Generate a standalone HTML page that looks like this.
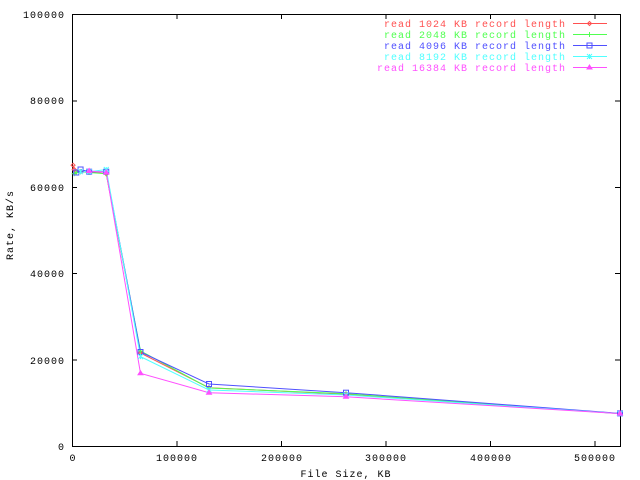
<!DOCTYPE html>
<html><head><meta charset="utf-8"><style>
html,body{margin:0;padding:0;background:#fff;}
svg{display:block;}
text{font-family:"Liberation Mono","DejaVu Sans Mono",monospace;font-size:10px;letter-spacing:1px;}
</style></head><body>
<svg width="640" height="480" viewBox="0 0 640 480" xmlns="http://www.w3.org/2000/svg">
<defs>
<path id="m1" d="M0,-2L2,0L0,2L-2,0Z" fill="none" stroke-width="1"/>
<path id="m2" d="M-2.5,0H2.5M0,-2.5V2.5" fill="none" stroke-width="1"/>
<rect id="m3" x="-2.5" y="-2.5" width="5" height="5" fill="none" stroke-width="1"/>
<path id="m4" d="M-2.5,-2.5L2.5,2.5M-2.5,2.5L2.5,-2.5M0,-2.5V2.5" fill="none" stroke-width="1"/>
<path id="m5" d="M0,-2.5L2.5,1.5H-2.5Z" stroke-width="1"/>
</defs>
<rect width="640" height="480" fill="#fff"/>
<g stroke="#000" stroke-width="1" fill="none" shape-rendering="crispEdges">
<rect x="72.5" y="14.5" width="548" height="432"/>
<path d="M72,14.5h5M620,14.5h-5M72,100.9h5M620,100.9h-5M72,187.3h5M620,187.3h-5M72,273.7h5M620,273.7h-5M72,360.1h5M620,360.1h-5"/>
<path d="M177,446v-5M177,14v5M281.5,446v-5M281.5,14v5M386,446v-5M386,14v5M490.5,446v-5M490.5,14v5M595,446v-5M595,14v5"/>
</g>
<g fill="#000">
<text x="65" y="18" text-anchor="end">100000</text>
<text x="65" y="104" text-anchor="end">80000</text>
<text x="65" y="191" text-anchor="end">60000</text>
<text x="65" y="277" text-anchor="end">40000</text>
<text x="65" y="364" text-anchor="end">20000</text>
<text x="65" y="450" text-anchor="end">0</text>
<text x="73" y="461" text-anchor="middle">0</text>
<text x="177" y="461" text-anchor="middle">100000</text>
<text x="282" y="461" text-anchor="middle">200000</text>
<text x="386" y="461" text-anchor="middle">300000</text>
<text x="491" y="461" text-anchor="middle">400000</text>
<text x="595" y="461" text-anchor="middle">500000</text>
<text x="346" y="477" text-anchor="middle">File Size, KB</text>
<text transform="translate(13,225) rotate(-90)" text-anchor="middle">Rate, KB/s</text>
</g>
<!-- legend -->
<g text-anchor="end">
<text x="566" y="27" fill="#ff5050">read 1024 KB record length</text>
<text x="566" y="38" fill="#50ff50">read 2048 KB record length</text>
<text x="566" y="49" fill="#5050ff">read 4096 KB record length</text>
<text x="566" y="60" fill="#50ffff">read 8192 KB record length</text>
<text x="566" y="71" fill="#ff50ff">read 16384 KB record length</text>
</g>
<g stroke-width="1" fill="none">
<path d="M573,23.5H607" stroke="#ff5050"/>
<path d="M573,34.5H607" stroke="#50ff50"/>
<path d="M573,45.5H607" stroke="#5050ff"/>
<path d="M573,56.5H607" stroke="#50ffff"/>
<path d="M573,67.5H607" stroke="#ff50ff"/>
</g>
<use href="#m1" x="589.5" y="23.5" stroke="#ff5050"/>
<use href="#m2" x="589.5" y="34.5" stroke="#50ff50"/>
<use href="#m3" x="589.5" y="45.5" stroke="#5050ff"/>
<use href="#m4" x="589.5" y="56.5" stroke="#50ffff"/>
<use href="#m5" x="589.5" y="67.5" stroke="#ff50ff" fill="#ff50ff"/>

<!-- series -->
<g fill="none" stroke-width="1">
<polyline stroke="#ff5050" points="73.07,165.2 74.14,169.5 76.28,171.7 80.56,171.7 89.13,171.7 106.25,173.8 140.5,353.1 209,387.7 346,394.2 620,413.6"/>
<polyline stroke="#50ff50" points="74.14,173.8 76.28,172.5 80.56,171.7 89.13,172.5 106.25,173.8 140.5,351 209,388 346,393.7 620,413.6"/>
<polyline stroke="#5050ff" points="76.28,172.5 80.56,169.5 89.13,171.7 106.25,171.7 140.5,352 209,384 346,392.7 620,413.4"/>
<polyline stroke="#50ffff" points="80.56,171.7 89.13,171.7 106.25,169.5 140.5,356.6 209,390 346,395 620,413.6"/>
<polyline stroke="#ff50ff" points="89.13,171 106.25,172.5 140.5,373.3 209,392.7 346,396.8 620,413.6"/>
</g>
<g stroke="#ff5050">
<use href="#m1" x="73.07" y="165.2"/><use href="#m1" x="74.14" y="169.5"/><use href="#m1" x="76.28" y="171.7"/><use href="#m1" x="80.56" y="171.7"/><use href="#m1" x="89.13" y="171.7"/><use href="#m1" x="106.25" y="173.8"/><use href="#m1" x="140.5" y="353.1"/><use href="#m1" x="209" y="387.7"/><use href="#m1" x="346" y="394.2"/><use href="#m1" x="620" y="413.6"/>
</g>
<g stroke="#50ff50">
<use href="#m2" x="74.14" y="173.8"/><use href="#m2" x="76.28" y="172.5"/><use href="#m2" x="80.56" y="171.7"/><use href="#m2" x="89.13" y="172.5"/><use href="#m2" x="106.25" y="173.8"/><use href="#m2" x="140.5" y="351"/><use href="#m2" x="209" y="388"/><use href="#m2" x="346" y="393.7"/><use href="#m2" x="620" y="413.6"/>
</g>
<g stroke="#5050ff">
<use href="#m3" x="76.28" y="172.5"/><use href="#m3" x="80.56" y="169.5"/><use href="#m3" x="89.13" y="171.7"/><use href="#m3" x="106.25" y="171.7"/><use href="#m3" x="140.5" y="352"/><use href="#m3" x="209" y="384"/><use href="#m3" x="346" y="392.7"/><use href="#m3" x="620" y="413.4"/>
</g>
<g stroke="#50ffff">
<use href="#m4" x="80.56" y="171.7"/><use href="#m4" x="89.13" y="171.7"/><use href="#m4" x="106.25" y="169.5"/><use href="#m4" x="140.5" y="356.6"/><use href="#m4" x="209" y="390"/><use href="#m4" x="346" y="395"/><use href="#m4" x="620" y="413.6"/>
</g>
<g stroke="#ff50ff" fill="#ff50ff">
<use href="#m5" x="89.13" y="171"/><use href="#m5" x="106.25" y="172.5"/><use href="#m5" x="140.5" y="373.3"/><use href="#m5" x="209" y="392.7"/><use href="#m5" x="346" y="396.8"/><use href="#m5" x="620" y="413.6"/>
</g>
</svg>
</body></html>
